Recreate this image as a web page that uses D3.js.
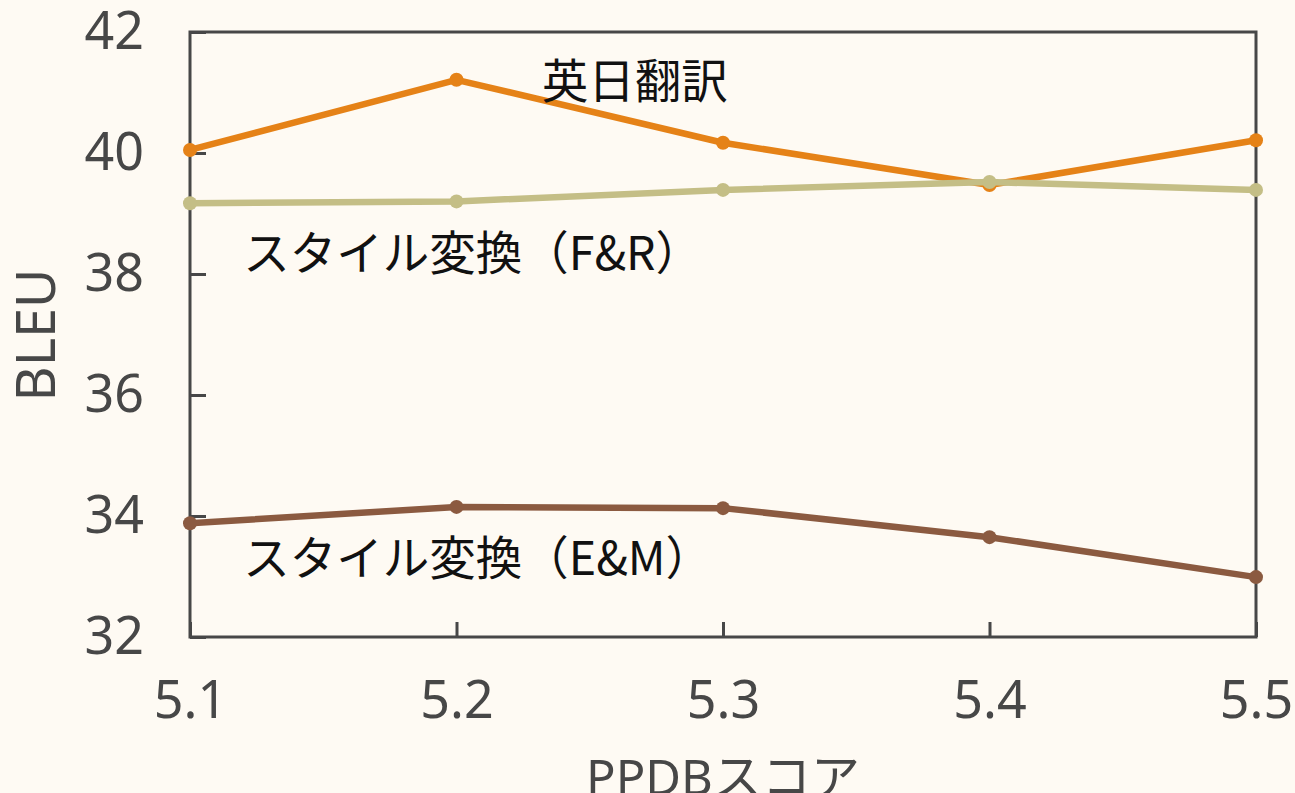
<!DOCTYPE html>
<html><head><meta charset="utf-8">
<script src="https://cdn.jsdelivr.net/npm/d3@7"></script>
<style>
html,body{margin:0;padding:0;background:#fefaf3;}
svg{display:block;}
</style></head>
<body>
<svg id="chart" width="1295" height="793"></svg>
<script>
const xValues = [5.1, 5.2, 5.3, 5.4, 5.5];
const xTickLabels = ["5.1", "5.2", "5.3", "5.4", "5.5"];
const yTicks = [32, 34, 36, 38, 40, 42];
const seriesNames = ["英日翻訳", "スタイル変換（F&R）", "スタイル変換（E&M）"];
const enJa = [40.05, 41.21, 40.17, 39.47, 40.21];
const styleFR = [39.17, 39.2, 39.39, 39.52, 39.39];
const styleEM = [33.88, 34.15, 34.13, 33.65, 32.99];
const colors = ["#e58217", "#c4be86", "#8b5a40"];
const labelPos = [[5.232, 40.91], [5.12, 38.07], [5.12, 33.03]];

(function(){
const svg = d3.select("#chart");
const mLeft = 190, mRight = 1256, mTop = 32, mBottom = 637;
const x = d3.scaleLinear().domain([5.1, 5.5]).range([mLeft, mRight]);
const y = d3.scaleLinear().domain([32, 42]).range([mBottom, mTop]);
const axisColor = "#474747";
const font = "'Noto Sans', 'Noto Sans CJK JP', sans-serif";

svg.append("rect").attr("x", mLeft).attr("y", mTop).attr("width", mRight-mLeft).attr("height", mBottom-mTop)
  .attr("fill", "none").attr("stroke", axisColor).attr("stroke-width", 3);

const yAxis = d3.axisLeft(y).tickValues(yTicks).tickSizeInner(-16).tickSizeOuter(0).tickPadding(46).tickFormat(d3.format("d"));
const gy = svg.append("g").attr("transform", `translate(${mLeft},0)`).call(yAxis);
const xAxis = d3.axisBottom(x).tickValues(xValues).tickSizeInner(-15).tickSizeOuter(0).tickPadding(44).tickFormat((d,i)=>xTickLabels[i]);
const gx = svg.append("g").attr("transform", `translate(0,${mBottom})`).call(xAxis);
[gx, gy].forEach(g => {
  g.select(".domain").remove();
  g.selectAll(".tick line").attr("stroke", axisColor).attr("stroke-width", 3);
  g.selectAll(".tick text").attr("fill", axisColor).attr("font-family", font).attr("font-size", 52);
});

const series = [enJa, styleFR, styleEM];
const line = d3.line().x((d,i)=>x(xValues[i])).y(d=>y(d));
series.forEach((s, k) => {
  svg.append("path").datum(s).attr("d", line).attr("fill", "none")
    .attr("stroke", colors[k]).attr("stroke-width", 6.5).attr("stroke-linejoin", "round");
  svg.append("g").selectAll("circle").data(s).join("circle")
    .attr("cx", (d,i)=>x(xValues[i])).attr("cy", d=>y(d)).attr("r", 7).attr("fill", colors[k]);
});

seriesNames.forEach((n, k) => {
  svg.append("text").attr("x", x(labelPos[k][0])).attr("y", y(labelPos[k][1]))
    .attr("font-family", "'Noto Sans CJK JP', sans-serif").attr("font-size", 46.5).attr("fill", "#111")
    .text(n);
});

svg.append("text").attr("x", 723).attr("y", 795).attr("text-anchor", "middle")
  .attr("font-family", font).attr("font-size", 49).attr("fill", axisColor).text("PPDBスコア");
svg.append("text").attr("transform", "translate(55,335) rotate(-90)").attr("text-anchor", "middle")
  .attr("font-family", font).attr("font-size", 54).attr("fill", axisColor).text("BLEU");
})();
</script>
</body></html>
